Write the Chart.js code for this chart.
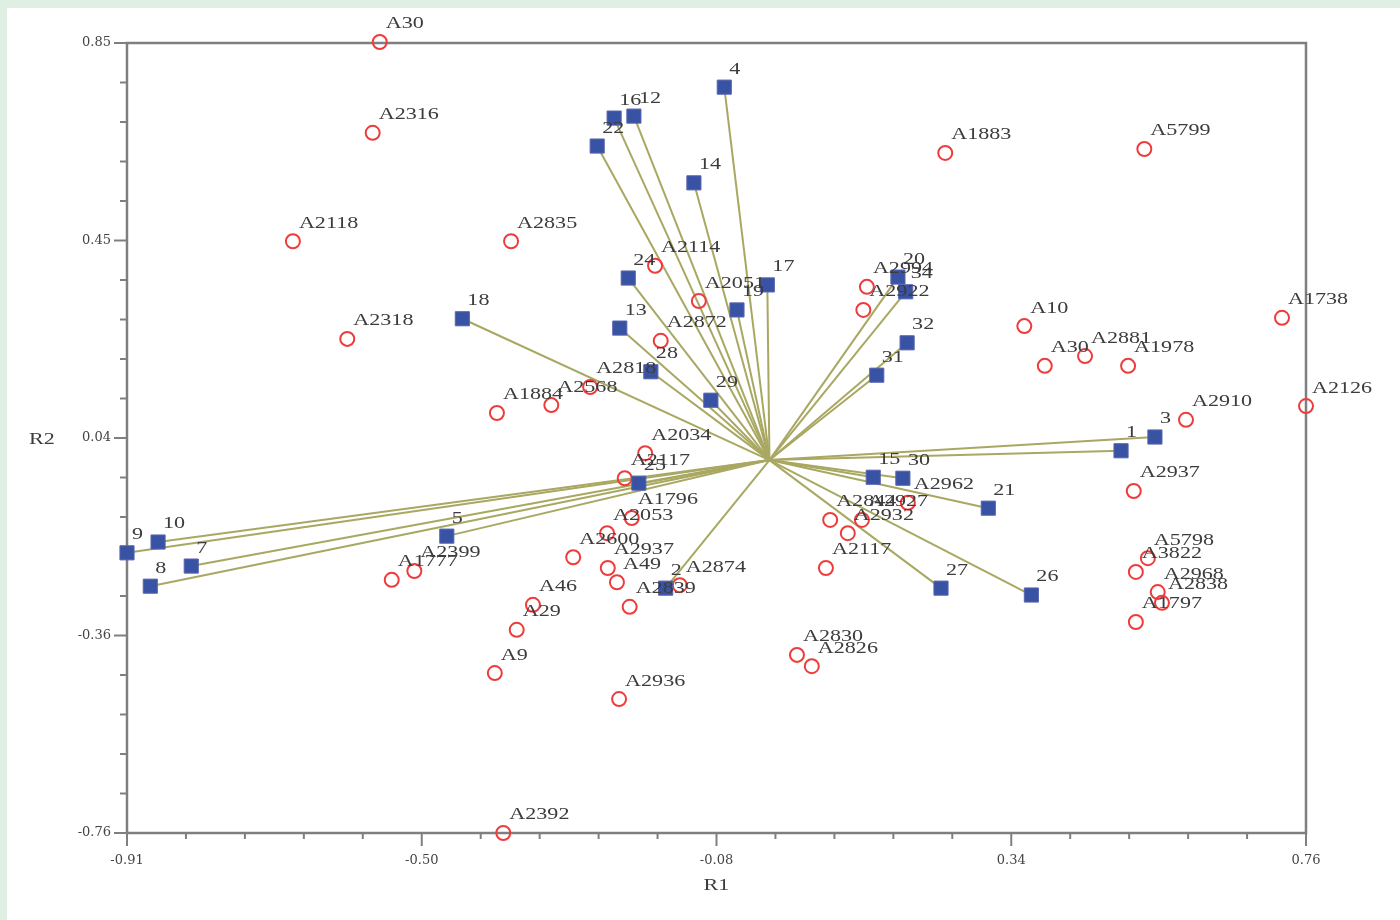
<!DOCTYPE html>
<html>
<head>
<meta charset="utf-8">
<script src="https://cdn.jsdelivr.net/npm/chart.js@4.4.0/dist/chart.umd.min.js"></script>
<style>
  html, body { margin: 0; padding: 0; background: #dfefe4; }
  #wrap { position: relative; width: 1400px; height: 920px; }
</style>
</head>
<body>
<div id="wrap"><canvas id="biplot"></canvas></div>
<script>
// axis ranges and tick labels
const xMin = -0.91, xMax = 0.76;
const yMin = -0.76, yMax = 0.85;
const xTickLabels = ["-0.91", "-0.50", "-0.08", "0.34", "0.76"];
const yTickLabels = ["-0.76", "-0.36", "0.04", "0.45", "0.85"];

// variables (blue squares, drawn as vectors from the origin)
const varLabels = ["4", "16", "12", "22", "14", "24", "17", "19", "18", "13",
  "28", "29", "20", "34", "32", "31", "1", "3", "15", "30",
  "21", "27", "26", "25", "5", "9", "10", "7", "8", "2"];
const varX = [-0.064, -0.220, -0.192, -0.244, -0.107, -0.200, -0.003, -0.046, -0.435, -0.212,
  -0.168, -0.083, 0.182, 0.193, 0.195, 0.152, 0.498, 0.546, 0.147, 0.189,
  0.310, 0.243, 0.371, -0.185, -0.457, -0.910, -0.866, -0.819, -0.877, -0.147];
const varY = [0.760, 0.697, 0.701, 0.640, 0.565, 0.371, 0.357, 0.306, 0.288, 0.269,
  0.180, 0.122, 0.373, 0.343, 0.239, 0.173, 0.019, 0.047, -0.035, -0.037,
  -0.098, -0.261, -0.275, -0.047, -0.155, -0.189, -0.167, -0.216, -0.257, -0.261];

// observations (red circles)
const obsLabels = ["A30", "A2316", "A2118", "A2835", "A2318", "A1884", "A2568", "A2818", "A2114", "A2051",
  "A2872", "A2994", "A2922", "A1883", "A5799", "A10", "A30", "A2881", "A1978", "A1738",
  "A2126", "A2910", "A2937", "A5798", "A3822", "A2968", "A2838", "A1797", "A2962", "A2844",
  "A2932", "A2927", "A2117", "A2830", "A2826", "A2936", "A2392", "A9", "A29", "A46",
  "A1777", "A2399", "A2034", "A2117", "A1796", "A2053", "A2600", "A2937", "A49", "A2839",
  "A2874"];
const obsX = [-0.552, -0.562, -0.675, -0.366, -0.598, -0.386, -0.309, -0.254, -0.162, -0.100,
  -0.154, 0.138, 0.133, 0.249, 0.531, 0.361, 0.390, 0.447, 0.508, 0.726,
  0.760, 0.590, 0.516, 0.536, 0.519, 0.550, 0.556, 0.519, 0.196, 0.086,
  0.111, 0.131, 0.080, 0.039, 0.060, -0.213, -0.377, -0.389, -0.358, -0.335,
  -0.535, -0.503, -0.176, -0.205, -0.195, -0.230, -0.278, -0.229, -0.216, -0.198,
  -0.127];
const obsY = [0.852, 0.667, 0.446, 0.446, 0.247, 0.096, 0.112, 0.149, 0.396, 0.324,
  0.243, 0.353, 0.306, 0.626, 0.634, 0.273, 0.192, 0.212, 0.192, 0.290,
  0.110, 0.082, -0.063, -0.200, -0.228, -0.269, -0.291, -0.330, -0.087, -0.122,
  -0.149, -0.122, -0.220, -0.397, -0.420, -0.487, -0.760, -0.434, -0.346, -0.295,
  -0.244, -0.226, 0.014, -0.037, -0.118, -0.149, -0.198, -0.220, -0.249, -0.299,
  -0.255];

const LINE_COLOR = "#a9a862";
const TEXT_COLOR = "#3c3c3c";
const AXIS_COLOR = "#7f7f7f";

const xTicks = [];
const yTicks = [];
for (let k = 0; k <= 20; k++) {
  xTicks.push(xMin + (k * (xMax - xMin)) / 20);
  yTicks.push(yMin + (k * (yMax - yMin)) / 20);
}

function drawStretched(ctx, text, x, y, size) {
  ctx.save();
  ctx.translate(x, y);
  ctx.scale(1.3, 1);
  ctx.font = size + "px 'Liberation Serif', serif";
  ctx.fillText(text, 0, 0);
  ctx.restore();
}

const decor = {
  id: "decor",
  beforeDraw(chart) {
    const { ctx, width, height } = chart;
    ctx.save();
    ctx.fillStyle = "#dfefe4";
    ctx.fillRect(0, 0, width, height);
    ctx.fillStyle = "#ffffff";
    ctx.fillRect(7, 8, width - 7, height - 8);
    ctx.restore();
  },
  beforeDatasetsDraw(chart) {
    const { ctx, chartArea: a } = chart;
    ctx.save();
    ctx.strokeStyle = AXIS_COLOR;
    ctx.lineWidth = 2.5;
    ctx.strokeRect(a.left, a.top, a.right - a.left, a.bottom - a.top);

    // tick marks, longer at the labelled ones
    ctx.lineWidth = 2;
    const xs = chart.scales.x, ys = chart.scales.y;
    xs.ticks.forEach((t, i) => {
      const px = xs.getPixelForValue(t.value);
      const len = i % 5 === 0 ? 13 : 6;
      ctx.beginPath();
      ctx.moveTo(px, a.bottom);
      ctx.lineTo(px, a.bottom + len);
      ctx.stroke();
    });
    ys.ticks.forEach((t, i) => {
      const py = ys.getPixelForValue(t.value);
      const len = i % 5 === 0 ? 13 : 7;
      ctx.beginPath();
      ctx.moveTo(a.left - len, py);
      ctx.lineTo(a.left, py);
      ctx.stroke();
    });

    ctx.fillStyle = TEXT_COLOR;
    ctx.textAlign = "left";
    ctx.textBaseline = "middle";
    drawStretched(ctx, "R1", (a.left + a.right) / 2 - 13, 886, 17);
    drawStretched(ctx, "R2", 29, 440, 17);
    ctx.restore();
  },
  afterDatasetsDraw(chart) {
    const { ctx } = chart;
    ctx.save();
    ctx.fillStyle = TEXT_COLOR;
    ctx.textAlign = "left";
    ctx.textBaseline = "middle";
    chart.data.datasets.forEach((ds, di) => {
      if (!ds.pointLabels) return;
      const meta = chart.getDatasetMeta(di);
      meta.data.forEach((pt, j) => {
        drawStretched(ctx, ds.pointLabels[j], pt.x + ds.labelDx, pt.y - 18, 17);
      });
    });
    ctx.restore();
  },
};

const vectorSets = varX.map((x, i) => ({
  data: [{ x: 0, y: 0 }, { x: x, y: varY[i] }],
  showLine: true,
  borderColor: LINE_COLOR,
  borderWidth: 2,
  pointRadius: 0,
  order: 3,
  clip: false,
}));

const obsSet = {
  data: obsX.map((x, i) => ({ x: x, y: obsY[i] })),
  pointStyle: "circle",
  pointRadius: 7,
  borderColor: "#ee3c3c",
  borderWidth: 2,
  backgroundColor: "rgba(255,255,255,0)",
  order: 2,
  clip: false,
  pointLabels: obsLabels,
  labelDx: 6,
};

const varSet = {
  data: varX.map((x, i) => ({ x: x, y: varY[i] })),
  pointStyle: "rect",
  pointRadius: 10,
  backgroundColor: "#3953a4",
  borderColor: "#5a64b0",
  borderWidth: 1,
  order: 1,
  clip: false,
  pointLabels: varLabels,
  labelDx: 5,
};

const tickFont = { family: "'DejaVu Serif', serif", size: 13 };

new Chart(document.getElementById("biplot"), {
  type: "scatter",
  data: { datasets: [...vectorSets, obsSet, varSet] },
  options: {
    responsive: true,
    maintainAspectRatio: false,
    animation: false,
    layout: { padding: { left: 0, top: 43, right: 94, bottom: 0 } },
    plugins: { legend: { display: false }, tooltip: { enabled: false } },
    scales: {
      x: {
        type: "linear",
        min: xMin,
        max: xMax,
        afterBuildTicks: (s) => { s.ticks = xTicks.map((v) => ({ value: v })); },
        afterFit: (s) => { s.height = 87; },
        grid: { display: false, drawTicks: false },
        border: { display: false },
        ticks: {
          autoSkip: false,
          maxRotation: 0,
          padding: 20,
          color: "#444",
          font: tickFont,
          callback: (v, i) => (i % 5 === 0 ? xTickLabels[i / 5] : ""),
        },
      },
      y: {
        type: "linear",
        min: yMin,
        max: yMax,
        afterBuildTicks: (s) => { s.ticks = yTicks.map((v) => ({ value: v })); },
        afterFit: (s) => { s.width = 127; },
        grid: { display: false, drawTicks: false },
        border: { display: false },
        ticks: {
          autoSkip: false,
          padding: 16,
          color: "#444",
          font: tickFont,
          callback: (v, i) => (i % 5 === 0 ? yTickLabels[i / 5] : ""),
        },
      },
    },
  },
  plugins: [decor],
});
</script>
</body>
</html>
